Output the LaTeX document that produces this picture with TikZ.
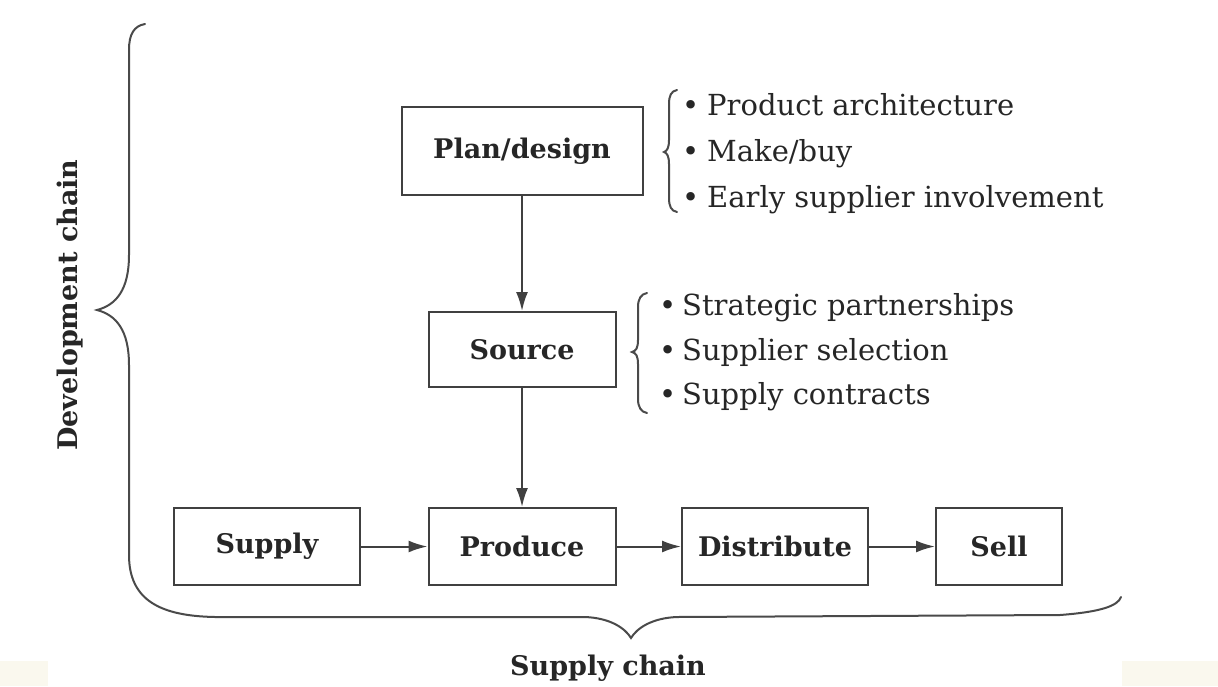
\documentclass[tikz,border=0pt]{standalone}
\usepackage{fontspec}
\setmainfont{DejaVu Serif}
\usetikzlibrary{arrows.meta}
\definecolor{ink}{HTML}{262626}
\definecolor{linec}{HTML}{404040}
\definecolor{bracec}{HTML}{4A4A4A}
\definecolor{cream}{RGB}{250,248,238}
\begin{document}
\begin{tikzpicture}[x=1pt,y=-1pt,
  box/.style={draw=linec,line width=2pt,inner sep=0pt,text=ink,font=\fontsize{27}{32}\selectfont\bfseries},
  item/.style={anchor=base west,inner sep=0pt,text=ink,font=\fontsize{29}{34}\selectfont},
  flow/.style={draw=linec,line width=2pt,-{Latex[length=19pt,width=12pt]}},
  brc/.style={draw=bracec,line width=2pt,line cap=round},
  lbl/.style={text=ink,inner sep=0pt,font=\fontsize{27}{32}\selectfont\bfseries}]
\useasboundingbox (0,0) rectangle (1218,686);
\fill[cream] (0,661) rectangle (48,686);
\fill[cream] (1122,661) rectangle (1218,686);
% boxes
\node[box,minimum width=241pt,minimum height=88pt] (plan) at (522,151) {Plan/design};
\node[box,minimum width=187pt,minimum height=75pt] (source) at (522,349.5) {Source};
\node[box,minimum width=186pt,minimum height=77pt] (supply) at (267,546.5) {Supply};
\node[box,minimum width=187pt,minimum height=77pt] (produce) at (522,546.5) {Produce};
\node[box,minimum width=186pt,minimum height=77pt] (distribute) at (775,546.5) {Distribute};
\node[box,minimum width=126pt,minimum height=77pt] (sell) at (999,546.5) {Sell};
% connectors
\draw[flow] (plan) -- (source);
\draw[flow] (source) -- (produce);
\draw[flow] (supply) -- (produce);
\draw[flow] (produce) -- (distribute);
\draw[flow] (distribute) -- (sell);
% first list
\node[item] (pa) at (682,115) {\makebox[25pt][l]{\textbullet}Product architecture};
\node[item] (mb) at (682,161) {\makebox[25pt][l]{\textbullet}Make/buy};
\node[item] (es) at (682,207) {\makebox[25pt][l]{\textbullet}Early supplier involvement};
\draw[brc] (677,90) .. controls (671,91) and (669,96) .. (669,104) -- (669,140)
  .. controls (669,148) and (667,151) .. (664,152) .. controls (667,153) and (669,156) .. (669,164)
  -- (669,198) .. controls (669,206) and (671,211) .. (677,212);
% second list
\node[item] (sp) at (659,315) {\makebox[23pt][l]{\textbullet}Strategic partnerships};
\node[item] (ss) at (659,360) {\makebox[23pt][l]{\textbullet}Supplier selection};
\node[item] (sc) at (659,404) {\makebox[23pt][l]{\textbullet}Supply contracts};
\draw[brc] (647,293) .. controls (641,294) and (638,299) .. (638,307) -- (638,340)
  .. controls (638,348) and (636,351) .. (632,352) .. controls (636,353) and (638,356) .. (638,364)
  -- (638,399) .. controls (638,407) and (641,412) .. (647,413);
% large brace
\draw[brc] (145,24) .. controls (134,26) and (129,34) .. (129,50) -- (129,255)
  .. controls (129,290) and (116,305) .. (97,310) .. controls (116,315) and (129,330) .. (129,365)
  -- (129,555) .. controls (129,600) and (160,616) .. (215,617) -- (585,617)
  .. controls (610,618) and (625,628) .. (631,638) .. controls (637,628) and (652,618) .. (677,617)
  -- (1060,615) .. controls (1100,612) and (1118,606) .. (1121,597);
% labels
\node[lbl,rotate=90] (dev) at (70,305) {Development chain};
\node[lbl] (sch) at (608,668) {Supply chain};
\end{tikzpicture}
\end{document}
